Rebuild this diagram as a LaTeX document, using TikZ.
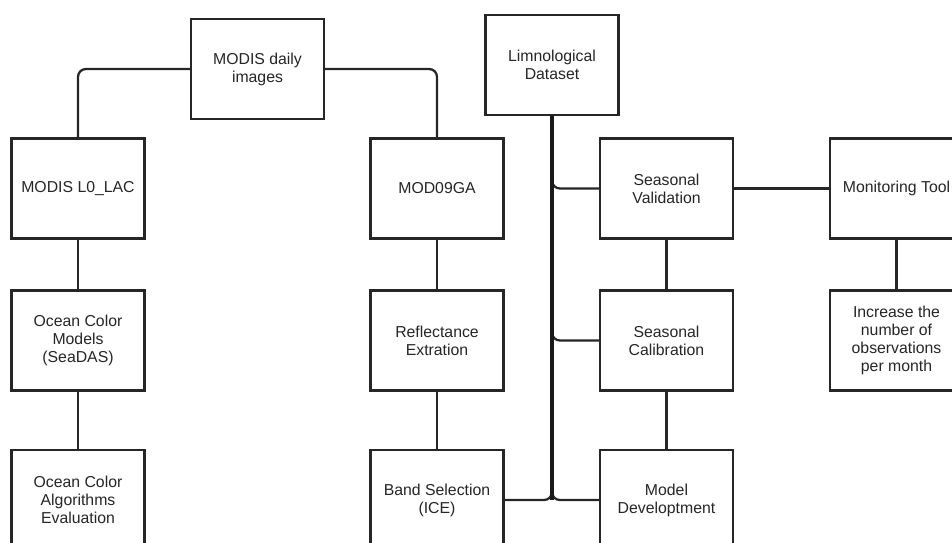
\documentclass[tikz,border=0pt]{standalone}
\usepackage{fontspec}
\setmainfont{Liberation Sans}
\tikzset{
    box/.style={draw=black!85, line width=1.4pt, fill=white, minimum width=2.66cm, minimum height=2cm,
        align=center, inner sep=2pt, text=black!85, font=\fontsize{9}{10.2}\selectfont},
    link/.style={draw=black!85, line width=1.3pt, rounded corners=4.5pt},
    bus/.style={draw=black!90, line width=1.9pt}
}
\begin{document}
\begin{tikzpicture}[x=0.02cm, y=-0.02cm]
    \useasboundingbox (0, 0) rectangle (952, 542);
    \clip (0, 0) rectangle (952, 542);

    \node[box] (daily) at (257.5, 69) {MODIS daily\\images};
    \node[box] (lzero) at (78, 188.5) {MODIS L0\_LAC};
    \node[box] (ocmodels) at (78, 340.5) {Ocean Color\\Models\\(SeaDAS)};
    \node[box] (ocalgo) at (78, 500) {Ocean Color\\Algorithms\\Evaluation};

    \node[box] (modga) at (437, 188.5) {MOD09GA};
    \node[box] (refl) at (437, 340.5) {Reflectance\\Extration};
    \node[box] (band) at (437, 500) {Band Selection\\(ICE)};

    \node[box] (limno) at (552, 65) {Limnological\\Dataset};
    \node[box] (sval) at (666.5, 188.5) {Seasonal\\Validation};
    \node[box] (scal) at (666.5, 340.5) {Seasonal\\Calibration};
    \node[box] (model) at (666.5, 500) {Model\\Developtment};

    \node[box] (monitor) at (896.5, 188.5) {Monitoring Tool};
    \node[box] (incr) at (896.5, 340.5) {Increase the\\number of\\observations\\per month};

    \draw[link] (daily.west) -| (lzero.north);
    \draw[link] (daily.east) -| (modga.north);
    \draw[link] (lzero) -- (ocmodels);
    \draw[link] (ocmodels) -- (ocalgo);
    \draw[link] (modga) -- (refl);
    \draw[link] (refl) -- (band);

    \draw[link] (limno.south) |- (sval.west);
    \draw[link] (limno.south) |- (scal.west);
    \draw[link] (limno.south) |- (model.west);
    \draw[link] (limno.south) |- (band.east);
    \draw[bus] (limno.south) -- (limno.south |- band.east);

    \draw[link] (sval) -- (scal);
    \draw[link] (scal) -- (model);
    \draw[link] (sval) -- (monitor);
    \draw[link] (monitor) -- (incr);
\end{tikzpicture}
\end{document}
